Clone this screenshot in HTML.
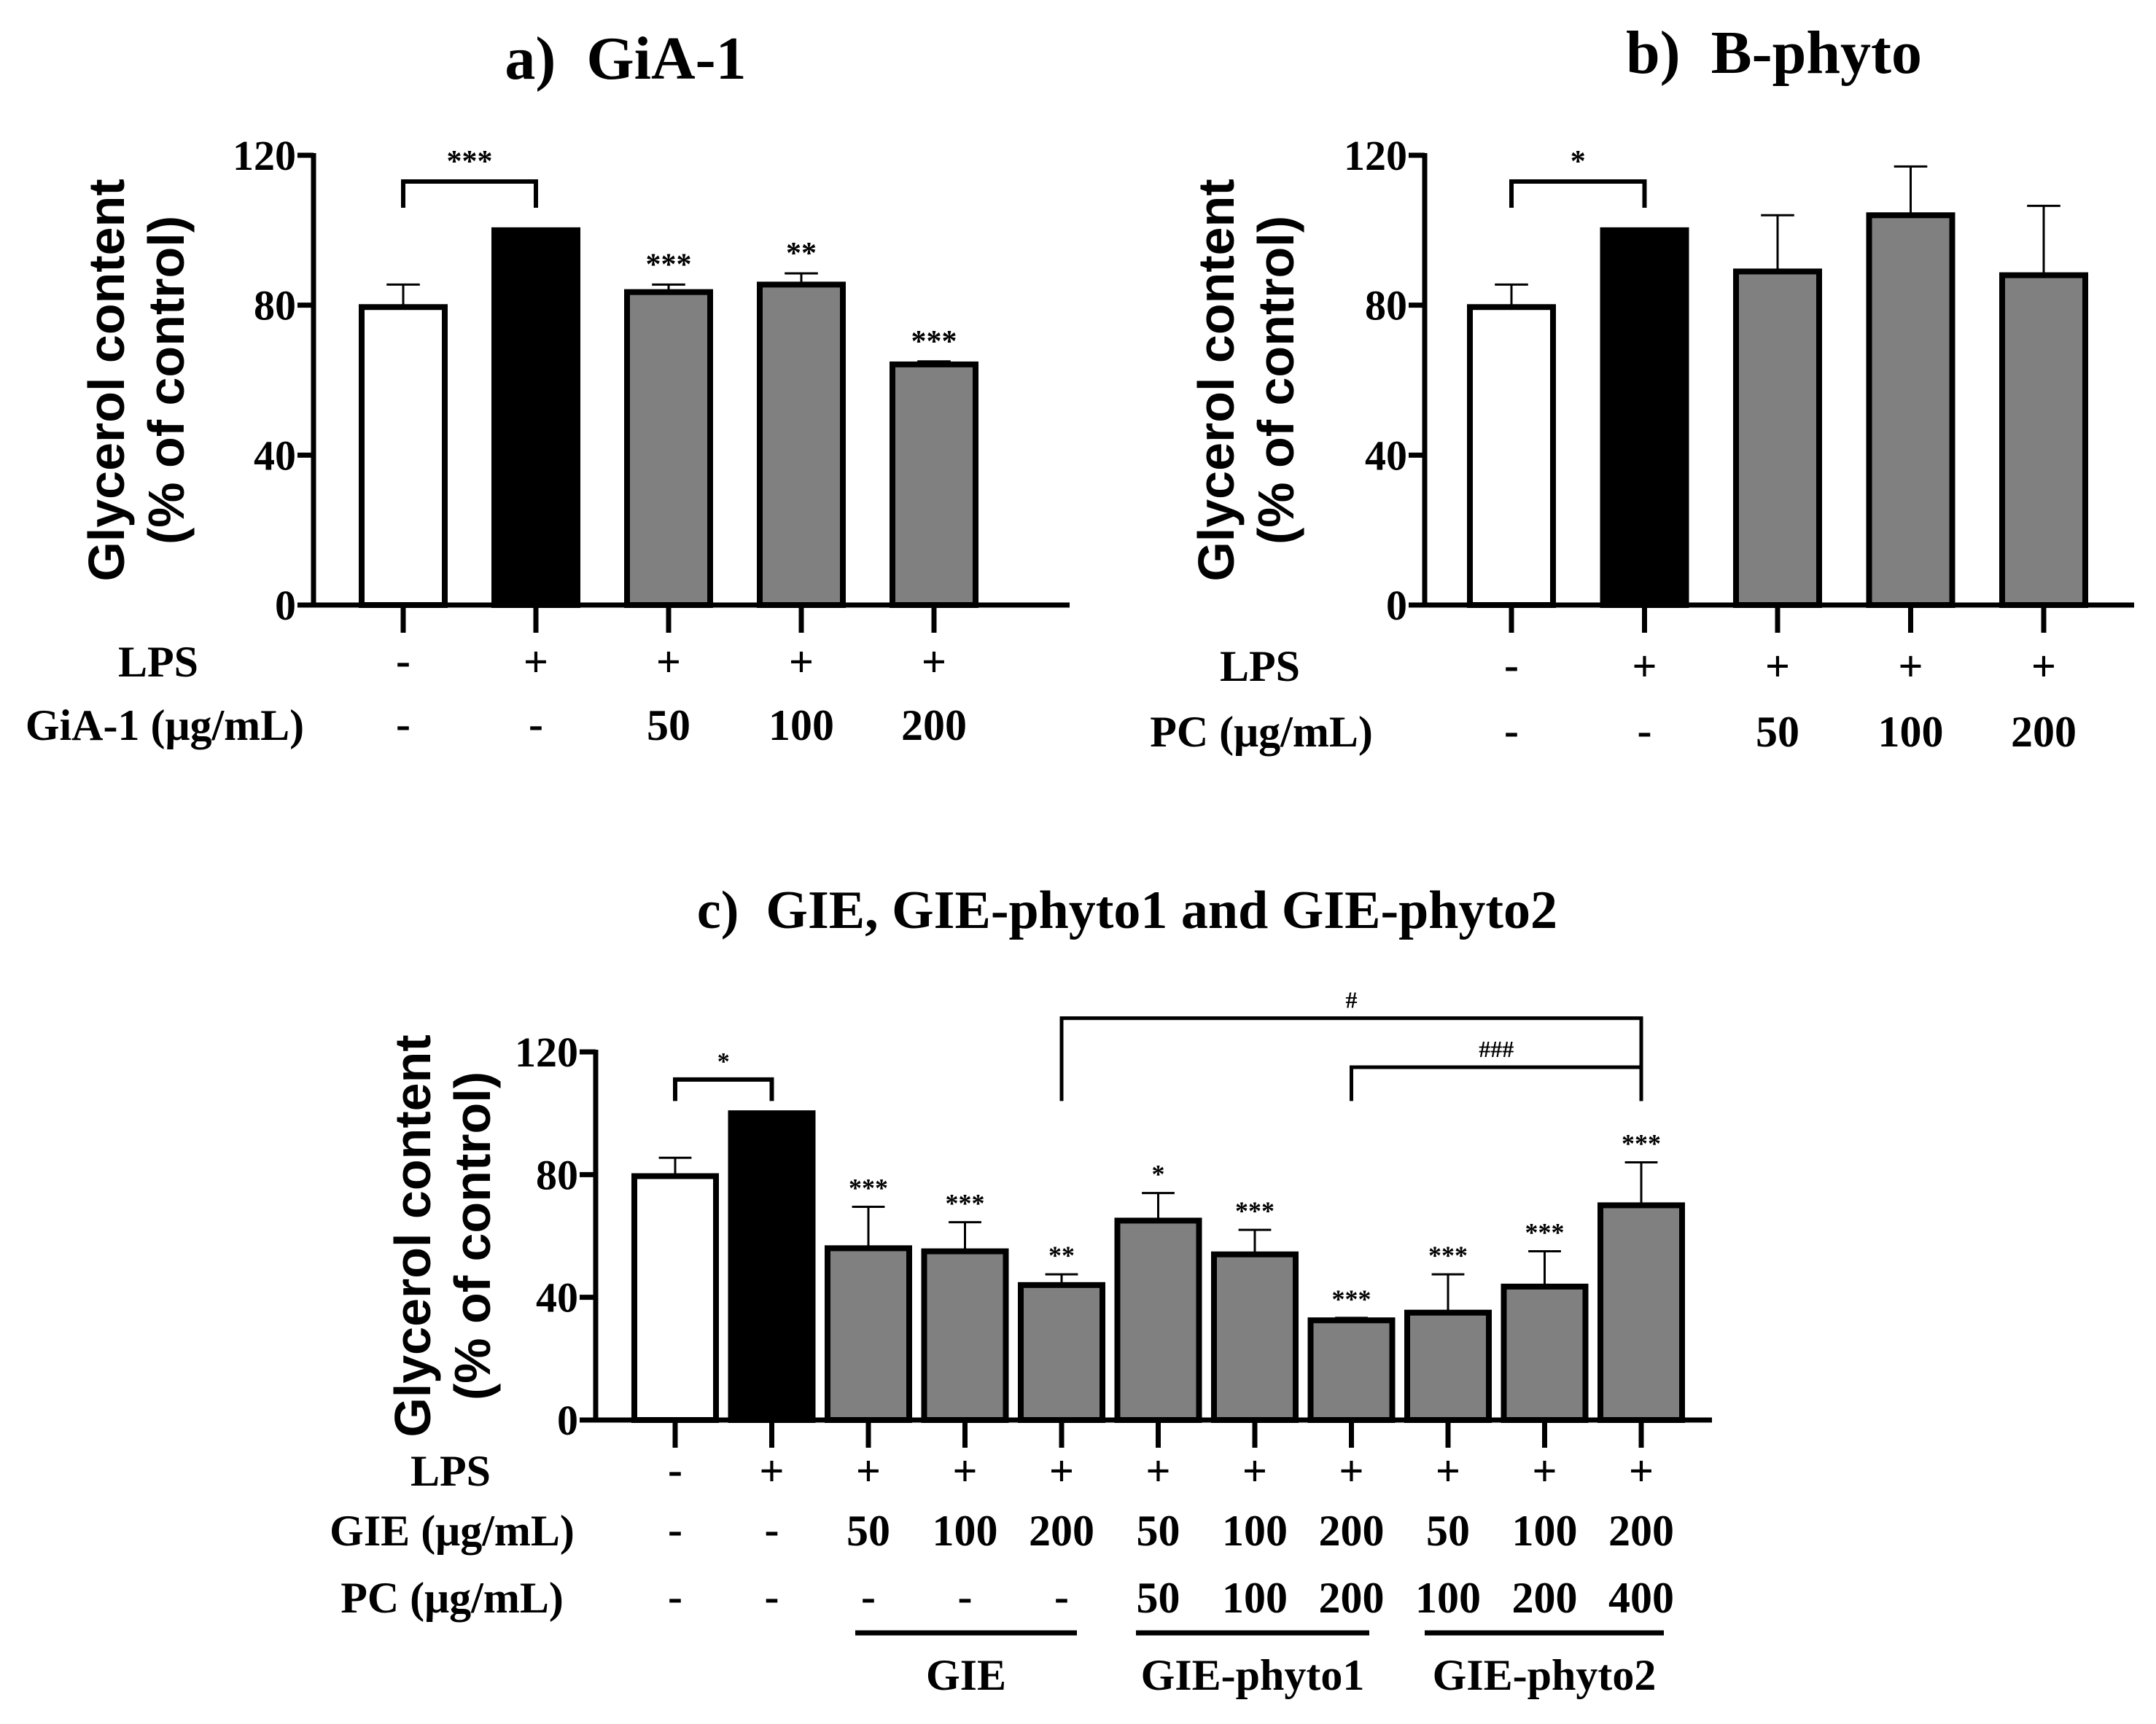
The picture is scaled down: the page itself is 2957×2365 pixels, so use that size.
<!DOCTYPE html>
<html><head><meta charset="utf-8"><style>
html,body{margin:0;padding:0;background:#fff;}
svg{display:block;}
text{font-family:"Liberation Serif",serif;font-weight:bold;fill:#000;}
</style></head><body>
<svg id="fig" width="2957" height="2365" viewBox="0 0 2957 2365" xmlns="http://www.w3.org/2000/svg"></svg>
<script>
// Panel a
const aCategories = ["Control","LPS","GiA-1 50","GiA-1 100","GiA-1 200"];
const aValues = [79.5, 100, 83.5, 85.5, 64.2];
const aErrors = [6, 0, 2, 3, 0.8];
const aStars = ["", "", "***", "**", "***"];
const aLPS = ["-","+","+","+","+"];
const aDose = ["-","-","50","100","200"];
// Panel b
const bCategories = ["Control","LPS","PC 50","PC 100","PC 200"];
const bValues = [79.5, 100, 89, 104, 88];
const bErrors = [6, 0, 15, 13, 18.5];
const bStars = ["", "", "", "", ""];
const bLPS = ["-","+","+","+","+"];
const bDose = ["-","-","50","100","200"];
// Panel c
const cCategories = ["Control","LPS","GIE50","GIE100","GIE200","P1-50","P1-100","P1-200","P2-50","P2-100","P2-200"];
const cValues = [79.5, 100, 56, 55, 44, 65, 54, 32.5, 35, 43.5, 70];
const cErrors = [6, 0, 13.5, 9.5, 3.5, 9, 8, 0.8, 12.5, 11.5, 14];
const cStars = ["", "", "***", "***", "**", "*", "***", "***", "***", "***", "***"];
const cLPS = ["-","+","+","+","+","+","+","+","+","+","+"];
const cGIE = ["-","-","50","100","200","50","100","200","50","100","200"];
const cPC = ["-","-","-","-","-","50","100","200","100","200","400"];
const yTicks = [0, 40, 80, 120];

const NS = "http://www.w3.org/2000/svg";
const svg = document.getElementById("fig");
function el(tag, attrs, parent, txt){
  const e = document.createElementNS(NS, tag);
  for (const k in attrs) e.setAttribute(k, attrs[k]);
  if (txt !== undefined) e.textContent = txt;
  (parent||svg).appendChild(e);
  return e;
}
function T(x,y,s,size,anchor,parent){
  return el("text",{x:x,y:y,"font-size":size,"text-anchor":anchor||"middle"},parent,s);
}

function panel(cfg){
  const g = el("g",{},svg);
  
  
  const x0=cfg.x0, x1=cfg.x1, yTop=cfg.yTop, yBot=cfg.yBot;
  const ys = v => yBot - (v/120)*(yBot-yTop);
  const xs = i => cfg.c0 + i*cfg.step;
  const t = T(cfg.tx, cfg.ty, cfg.title, cfg.tsize, "middle", g);
  
  
  t.setAttribute('xml:space','preserve');
  t.style.whiteSpace='pre';
  const yl = el("text",{transform:`translate(${cfg.ylx},${(yTop+yBot)/2}) rotate(-90)`,"font-size":70,"text-anchor":"middle"},g);
  
  
  el("tspan",{x:0,dy:0},yl,"Glycerol content");
  el("tspan",{x:0,dy:82},yl,"(% of control)");
  yl.style.fontFamily='"Liberation Sans",sans-serif';
  yTicks.forEach(v=>{
    const y=ys(v);
    const tk = el("line",{x1:x0-22,x2:x0,y1:y,y2:y,stroke:"#000","stroke-width":7},g);
    
    
    const tl = T(x0-24, y+20, String(v), 58, "end", g);
    
    
  });
  cfg.values.forEach((v,i)=>{
    const cx=xs(i), w=cfg.bw;
    const fill = i===0?"#fff":(i===1?"#000":"#808080");
    const err = cfg.errors[i];
    if (err>0){
      const eb = el("line",{x1:cx,x2:cx,y1:ys(v),y2:ys(v+err),stroke:"#000","stroke-width":3},g);
      
      
      const ec = el("line",{x1:cx-w*0.2,x2:cx+w*0.2,y1:ys(v+err),y2:ys(v+err),stroke:"#000","stroke-width":3},g);
      
      
    }
    const r = el("rect",{x:cx-w/2,y:ys(v),width:w,height:yBot-ys(v),fill:fill,stroke:"#000","stroke-width":8},g);
    
    
    if (cfg.stars[i]){
      const st = T(cx, ys(v+err)-14, cfg.stars[i], cfg.ssize, "middle", g);
      
      
    }
    const xt = el("line",{x1:cx,x2:cx,y1:yBot,y2:yBot+38,stroke:"#000","stroke-width":7},g);
    
    
    cfg.rows.forEach(row=>{
      const s = row.vals[i];
      const rl = T(cx, row.y + (s==="-"?-2:0), s, 60, "middle", g);
      
      
    });
  });
  const ya = el("line",{x1:x0,x2:x0,y1:yTop-3,y2:yBot+3,stroke:"#000","stroke-width":7},g);
  
  
  const xa = el("line",{x1:x0-22,x2:x1,y1:yBot,y2:yBot,stroke:"#000","stroke-width":7},g);
  
  
  cfg.rows.forEach(row=>{
    const rl = T(row.lx, row.y, row.label, 60, "middle", g);
    
    
  });
  cfg.brackets.forEach(b=>{
    const xa_=xs(b.i), xb=xs(b.j), yb=ys(b.level), yl2=ys(b.leg);
    const p = el("path",{d:`M${xa_},${yl2} V${yb} H${xb} V${yl2}`,fill:"none",stroke:"#000","stroke-width":b.w||6},g);
    
    
    const bl = T((xa_+xb)/2, yb-14, b.label, b.size||34, "middle", g);
    
    
  });
  return {g,xs};
}

panel({name:"panel-a",x0:430,x1:1467,yTop:213,yBot:830,c0:553,step:182,bw:114,
  cats:aCategories,values:aValues,errors:aErrors,stars:aStars,ssize:42,
  title:"a)  GiA-1",tx:858,ty:108,tsize:84,ylx:170,
  rows:[{label:"LPS",lx:217,y:928,vals:aLPS},{label:"GiA-1 (μg/mL)",lx:226,y:1015,vals:aDose}],
  brackets:[{i:0,j:1,level:113,leg:106,label:"***",size:42}]});

panel({name:"panel-b",x0:1954,x1:2927,yTop:213,yBot:830,c0:2073,step:182.5,bw:114,
  cats:bCategories,values:bValues,errors:bErrors,stars:bStars,ssize:42,
  title:"b)  B-phyto",tx:2433,ty:100,tsize:84,ylx:1692,
  rows:[{label:"LPS",lx:1728,y:934,vals:bLPS},{label:"PC (μg/mL)",lx:1730,y:1024,vals:bDose}],
  brackets:[{i:0,j:1,level:113,leg:106,label:"*",size:42}]});

const pc = panel({name:"panel-c",x0:817,x1:2348,yTop:1443,yBot:1948,c0:926,step:132.5,bw:112,
  cats:cCategories,values:cValues,errors:cErrors,stars:cStars,ssize:36,
  title:"c)  GIE, GIE-phyto1 and GIE-phyto2",tx:1546,ty:1273,tsize:74,ylx:590,
  rows:[{label:"LPS",lx:618,y:2038,vals:cLPS},{label:"GIE (μg/mL)",lx:620,y:2120,vals:cGIE},{label:"PC (μg/mL)",lx:620,y:2212,vals:cPC}],
  brackets:[{i:0,j:1,level:111,leg:104,label:"*",size:34},
            {i:4,j:10,level:131,leg:104,label:"#",size:32,w:5},
            {i:7,j:10,level:115,leg:104,label:"###",size:32,w:5}]});

const groups = [{label:"GIE",a:1173,b:1477},{label:"GIE-phyto1",a:1558,b:1878},{label:"GIE-phyto2",a:1954,b:2282}];
groups.forEach(gr=>{
  const l = el("line",{x1:gr.a,x2:gr.b,y1:2240,y2:2240,stroke:"#000","stroke-width":7},pc.g);
  
  
  const t = T((gr.a+gr.b)/2, 2318, gr.label, 60, "middle", pc.g);
  
  
});
</script>
</body></html>
